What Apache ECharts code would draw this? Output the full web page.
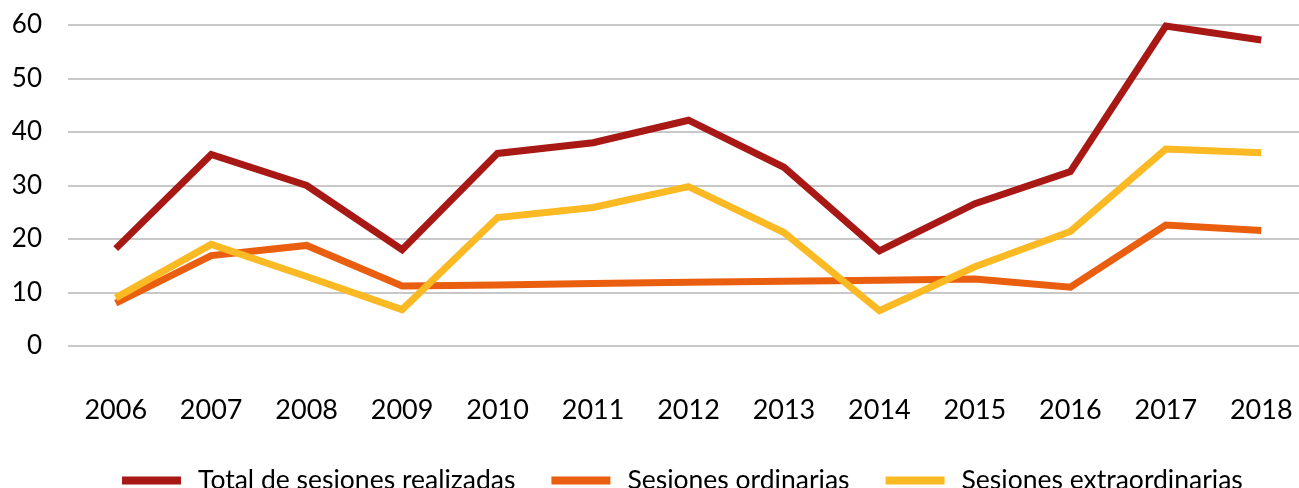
<!DOCTYPE html>
<html style="height: 100%">

<head>
    <meta charset="utf-8">
    <title>Sesiones</title>
</head>

<body style="height: 100%; margin: 0; background: #fff; overflow: hidden">
    <div id="container" style="width: 1309px; height: 488px"></div>
    <script src="https://cdn.jsdelivr.net/npm/echarts@6/dist/echarts.min.js"></script>
    <script type="text/javascript">
        var years = ['2006', '2007', '2008', '2009', '2010', '2011', '2012', '2013', '2014', '2015', '2016', '2017', '2018'];
        var total = [18.2, 35.8, 30, 18, 36, 38, 42.2, 33.4, 17.8, 26.6, 32.6, 59.8, 57.2];
        var ordinarias = [8, 16.9, 18.8, 11.2, 11.4, 11.7, 11.9, 12.1, 12.3, 12.5, 11, 22.6, 21.6];
        var extraordinarias = [9, 19, 13, 6.8, 24, 25.9, 29.8, 21.2, 6.6, 14.8, 21.4, 36.8, 36.1];

        var myChart = echarts.init(document.getElementById('container'));

        function lineSeries(name, data, color) {
            return {
                name: name,
                type: 'line',
                data: data,
                showSymbol: false,
                symbol: 'none',
                animation: false,
                color: color,
                lineStyle: { width: 7, color: color, join: 'miter' }
            };
        }

        var option = {
            textStyle: { fontFamily: 'Lato' },
            grid: { left: 68, right: 0, top: 25, bottom: 142 },
            legend: {
                top: 467,
                left: 122,
                padding: 0,
                itemWidth: 59,
                itemHeight: 8,
                itemGap: 36,
                icon: 'rect',
                textStyle: { fontSize: 26.5, color: '#000', fontFamily: 'Lato', padding: [0, 0, 0, 12] },
                data: ['Total de sesiones realizadas', 'Sesiones ordinarias', 'Sesiones extraordinarias']
            },
            xAxis: {
                type: 'category',
                data: years,
                boundaryGap: true,
                axisLine: { show: false },
                axisTick: { show: false },
                axisLabel: { fontSize: 27, color: '#000', margin: 51 }
            },
            yAxis: {
                type: 'value',
                min: 0,
                max: 60,
                interval: 10,
                axisLine: { show: false },
                axisTick: { show: false },
                axisLabel: { fontSize: 26, color: '#000', margin: 26 },
                splitLine: { lineStyle: { color: '#c8c8c8', width: 2 } }
            },
            series: [
                lineSeries('Total de sesiones realizadas', total, '#a81916'),
                lineSeries('Sesiones ordinarias', ordinarias, '#e95e0f'),
                lineSeries('Sesiones extraordinarias', extraordinarias, '#fbb923')
            ]
        };
        myChart.setOption(option);
    </script>
</body>

</html>
